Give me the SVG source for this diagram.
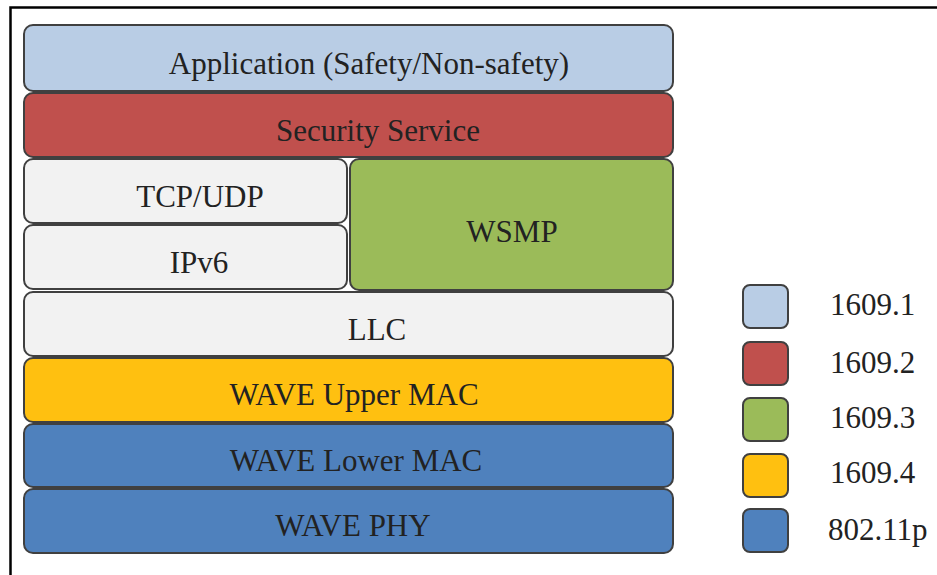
<svg xmlns="http://www.w3.org/2000/svg" width="937" height="575" viewBox="0 0 937 575">
<defs>
<rect id="legbox" width="45" height="43" rx="7" stroke="#404040" stroke-width="2"/>
</defs>
<rect width="937" height="575" fill="#fff"/>
<path d="M10.5 575 V7.5 H937" fill="none" stroke="#000" stroke-width="2.5"/>
<g font-family="'Liberation Serif', 'Times New Roman', serif" font-size="31" fill="#222">
<g text-anchor="middle">
<g id="app"><rect x="24" y="25" width="649" height="66" rx="9" fill="#b9cde5" stroke="#404040" stroke-width="2"/><text x="369" y="74">Application (Safety/Non-safety)</text></g>
<g id="security"><rect x="24" y="93" width="649" height="64" rx="9" fill="#c0504d" stroke="#404040" stroke-width="2"/><text x="378" y="141">Security Service</text></g>
<g id="tcpudp"><rect x="24" y="159" width="323" height="64" rx="9" fill="#f2f2f2" stroke="#404040" stroke-width="2"/><text x="200" y="207">TCP/UDP</text></g>
<g id="ipv6"><rect x="24" y="225" width="323" height="64" rx="9" fill="#f2f2f2" stroke="#404040" stroke-width="2"/><text x="199" y="273">IPv6</text></g>
<g id="wsmp"><rect x="350" y="159" width="323" height="131" rx="9" fill="#9bbb59" stroke="#404040" stroke-width="2"/><text x="512" y="242">WSMP</text></g>
<g id="llc"><rect x="24" y="292" width="649" height="64" rx="9" fill="#f2f2f2" stroke="#404040" stroke-width="2"/><text x="377" y="340">LLC</text></g>
<g id="uppermac"><rect x="24" y="358" width="649" height="64" rx="9" fill="#ffc010" stroke="#404040" stroke-width="2"/><text x="354" y="405">WAVE Upper MAC</text></g>
<g id="lowermac"><rect x="24" y="424" width="649" height="63" rx="9" fill="#4f81bd" stroke="#404040" stroke-width="2"/><text x="356" y="471">WAVE Lower MAC</text></g>
<g id="phy"><rect x="24" y="489" width="649" height="64" rx="9" fill="#4f81bd" stroke="#404040" stroke-width="2"/><text x="353" y="536">WAVE PHY</text></g>
</g>
<g id="connectors"/>
<g id="legend">
<g id="leg1"><use href="#legbox" x="743" y="285" fill="#b9cde5"/><text x="830" y="315">1609.1</text></g>
<g id="leg2"><use href="#legbox" x="743" y="342" fill="#c0504d"/><text x="830" y="373">1609.2</text></g>
<g id="leg3"><use href="#legbox" x="743" y="398" fill="#9bbb59"/><text x="830" y="428">1609.3</text></g>
<g id="leg4"><use href="#legbox" x="743" y="454" fill="#ffc010"/><text x="830" y="483">1609.4</text></g>
<g id="leg5"><use href="#legbox" x="743" y="509" fill="#4f81bd"/><text x="828" y="540">802.11p</text></g>
</g>
</g>
</svg>
